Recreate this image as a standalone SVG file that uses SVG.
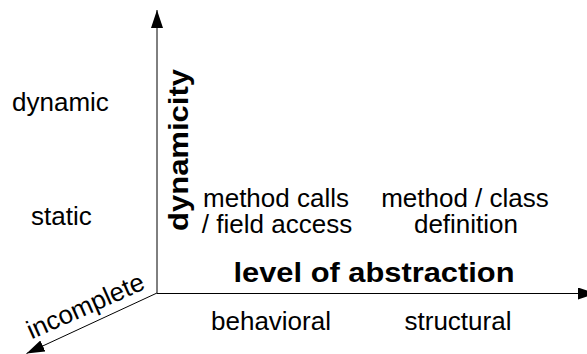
<svg xmlns="http://www.w3.org/2000/svg" width="587" height="354" viewBox="0 0 587 354">
  <style>
    .lbl { font-family: "Liberation Sans", Arial, sans-serif; font-size: 26px; fill: #000; }
    .mid { text-anchor: middle; }
    .axis-title { font-family: "Liberation Sans", Arial, sans-serif; font-size: 27px; font-weight: bold; fill: #000; text-anchor: middle; }
    .axis { stroke: #000; stroke-width: 1; fill: none; marker-end: url(#head); }
  </style>
  <defs>
    <marker id="head" viewBox="0 0 18 12" refX="18" refY="6" markerWidth="18" markerHeight="12" markerUnits="userSpaceOnUse" orient="auto">
      <path d="M0,0 L18,6 L0,12 Z" fill="#000"/>
    </marker>
  </defs>
  <rect width="587" height="354" fill="#fff"/>

  <!-- axes -->
  <g id="connectors">
    <line class="axis" x1="157" y1="293" x2="157" y2="10"/>
    <line class="axis" x1="157" y1="293.5" x2="596" y2="293.5"/>
    <line class="axis" x1="157" y1="293" x2="26.5" y2="353.5"/>
  </g>

  <!-- axis titles: wide bold face, stretched along the run -->
  <g id="axis-dynamicity">
    <text class="axis-title" transform="translate(188,150) rotate(-90)" textLength="162" lengthAdjust="spacingAndGlyphs">dynamicity</text>
  </g>
  <g id="axis-abstraction">
    <text class="axis-title" x="374" y="281.5" textLength="281" lengthAdjust="spacingAndGlyphs">level of abstraction</text>
  </g>
  <g id="axis-completeness">
    <text class="lbl mid" transform="translate(89,314) rotate(-24)">incomplete</text>
  </g>

  <g id="dynamic">
    <text class="lbl" x="12" y="111">dynamic</text>
  </g>
  <g id="static">
    <text class="lbl" x="31" y="225">static</text>
  </g>

  <g id="method-calls">
    <text class="lbl mid" x="276" y="207">method calls</text>
    <text class="lbl mid" x="277" y="233">/ field access</text>
  </g>
  <g id="class-definition">
    <text class="lbl mid" x="465" y="207">method / class</text>
    <text class="lbl mid" x="466" y="233">definition</text>
  </g>

  <g id="behavioral">
    <text class="lbl mid" x="271" y="330">behavioral</text>
  </g>
  <g id="structural">
    <text class="lbl mid" x="458" y="330">structural</text>
  </g>
</svg>
